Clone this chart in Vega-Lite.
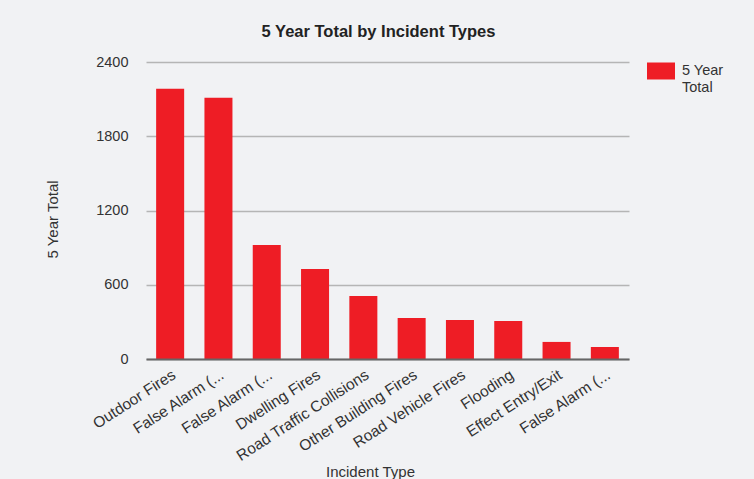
{
  "$schema": "https://vega.github.io/schema/vega-lite/v6.json",
  "autosize": "none",
  "width": 483,
  "height": 297,
  "padding": {"left": 146, "top": 62, "right": 125, "bottom": 120},
  "background": "#f1f2f4",
  "title": {
    "text": "5 Year Total by Incident Types",
    "anchor": "middle",
    "dx": -9,
    "offset": 14,
    "font": "Liberation Sans",
    "fontSize": 16.5,
    "fontWeight": "bold",
    "color": "#222222"
  },
  "data": {
    "values": [
      {"type": "Outdoor Fires", "total": 2184},
      {"type": "False Alarm (Apparatus)", "total": 2111},
      {"type": "False Alarm (Good Intent)", "total": 922},
      {"type": "Dwelling Fires", "total": 728},
      {"type": "Road Traffic Collisions", "total": 510},
      {"type": "Other Building Fires", "total": 332},
      {"type": "Road Vehicle Fires", "total": 315},
      {"type": "Flooding", "total": 307},
      {"type": "Effect Entry/Exit", "total": 138},
      {"type": "False Alarm (Malicious)", "total": 97}
    ]
  },
  "mark": {"type": "bar"},
  "encoding": {
    "x": {
      "field": "type",
      "type": "nominal",
      "sort": null,
      "scale": {"paddingInner": 0.42, "paddingOuter": 0.21},
      "axis": {
        "title": "Incident Type",
        "labelAngle": -33,
        "labelPadding": 8,
        "labelFontSize": 15.5,
        "labelLimit": 300,
        "labelExpr": "indexof(datum.label, '(') > 0 ? slice(datum.label, 0, indexof(datum.label, '(') + 1) + '...' : datum.label",
        "ticks": false,
        "domainColor": "#666666",
        "domainWidth": 2,
        "zindex": 1,
        "titleX": 224,
        "titleY": 112,
        "titleBaseline": "middle"
      }
    },
    "y": {
      "field": "total",
      "type": "quantitative",
      "scale": {"domain": [0, 2400], "nice": false},
      "axis": {
        "title": "5 Year Total",
        "values": [0, 600, 1200, 1800, 2400],
        "format": "d",
        "ticks": false,
        "domain": false,
        "labelPadding": 18,
        "gridColor": "#b5b5b5",
        "gridWidth": 1.5,
        "titleX": -94,
        "titleY": 157,
        "titleAngle": -90,
        "titleBaseline": "middle",
        "titleAlign": "center"
      }
    },
    "color": {
      "datum": "5 Year Total",
      "scale": {"range": ["#ee1d25"]},
      "legend": {
        "title": null,
        "orient": "none",
        "legendX": 501,
        "legendY": -5,
        "symbolType": "M-1,-0.607H1V0.607H-1Z",
        "symbolSize": 784,
        "symbolStrokeWidth": 0,
        "symbolOpacity": 1,
        "labelExpr": "['5 Year', 'Total']",
        "labelFont": "Liberation Sans",
        "labelFontSize": 14.5,
        "labelColor": "#333333",
        "labelOffset": 7
      }
    }
  },
  "config": {
    "view": {"stroke": null},
    "axis": {
      "labelFont": "Liberation Sans",
      "labelFontSize": 14.5,
      "labelColor": "#333333",
      "titleFont": "Liberation Sans",
      "titleFontSize": 15,
      "titleFontWeight": "normal",
      "titleColor": "#333333"
    }
  }
}
